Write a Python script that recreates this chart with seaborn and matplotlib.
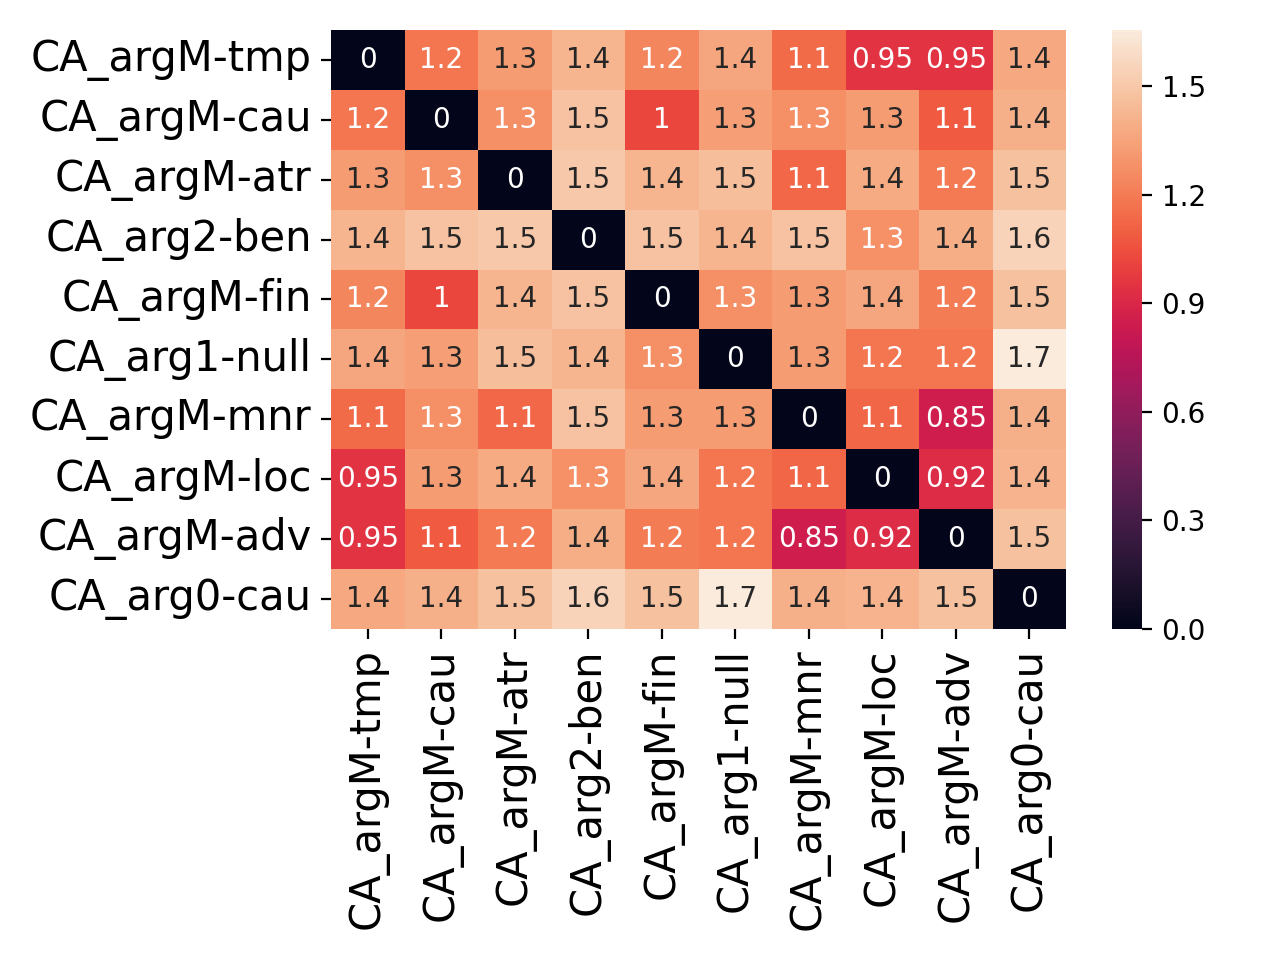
import numpy as np
import pandas as pd
import matplotlib
matplotlib.use('Agg')
import matplotlib.pyplot as plt
import seaborn as sns

labels = ['CA_argM-tmp', 'CA_argM-cau', 'CA_argM-atr', 'CA_arg2-ben', 'CA_argM-fin',
          'CA_arg1-null', 'CA_argM-mnr', 'CA_argM-loc', 'CA_argM-adv', 'CA_arg0-cau']

# upper triangle distances (row i, cols i+1..)
d_tmp = [1.18, 1.32, 1.42, 1.24, 1.36, 1.14, 0.95, 0.95, 1.37]
d_cau = [1.27, 1.48, 1.02, 1.33, 1.27, 1.32, 1.08, 1.40]
d_atr = [1.50, 1.42, 1.46, 1.13, 1.38, 1.19, 1.47]
d_ben = [1.48, 1.42, 1.48, 1.28, 1.39, 1.55]
d_fin = [1.27, 1.32, 1.36, 1.20, 1.47]
d_null = [1.32, 1.18, 1.18, 1.655]
d_mnr = [1.12, 0.85, 1.40]
d_loc = [0.92, 1.41]
d_adv = [1.47]

upper = [d_tmp, d_cau, d_atr, d_ben, d_fin, d_null, d_mnr, d_loc, d_adv]

n = len(labels)
mat = np.zeros((n, n))
for i, row in enumerate(upper):
    for k, v in enumerate(row):
        j = i + 1 + k
        mat[i, j] = v
        mat[j, i] = v

df = pd.DataFrame(mat, index=labels, columns=labels)

fig = plt.figure(figsize=(6.4, 4.8), dpi=200)
ax = sns.heatmap(df, annot=True, fmt='.2g', cbar_kws={'ticks': [0, 0.3, 0.6, 0.9, 1.2, 1.5]})
ax.tick_params(axis='both', labelsize=15)
plt.tight_layout()
plt.savefig('out.png', dpi=200)
